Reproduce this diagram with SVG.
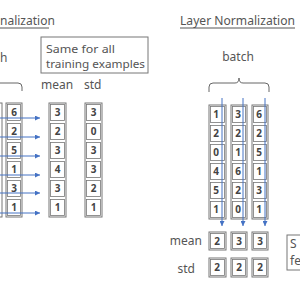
<svg xmlns="http://www.w3.org/2000/svg" width="300" height="300" viewBox="0 0 300 300">
<defs>
<style>
.t{font-family:"Noto Sans","Noto Sans CJK JP",sans-serif;fill:#555;font-size:12px}
.nt{font-family:"Noto Sans","Noto Sans CJK JP",sans-serif;fill:#555;font-size:11px}
.n{font-family:"Noto Sans","Noto Sans CJK JP",sans-serif;fill:#444;font-size:10px;font-weight:bold;text-anchor:middle}
.col{fill:#fff;stroke:#777;stroke-width:1}
.cell{fill:none;stroke:#777;stroke-width:0.8}
.bl{stroke:#4472C4;stroke-width:1;fill:none}
.br{stroke:#666;stroke-width:1;fill:none}
</style>
<marker id="ah" viewBox="0 0 6 6" refX="6" refY="3" markerWidth="5" markerHeight="5" orient="auto">
<path d="M0,0 L6,3 L0,6 z" fill="#4472C4"/>
</marker>
</defs>
<rect width="300" height="300" fill="#fff"/>

<g id="titles">
<text class="t" x="0" y="25">nalization</text>
<line x1="0" y1="28" x2="49" y2="28" stroke="#555" stroke-width="1"/>
<text class="t" x="180" y="25" textLength="115" lengthAdjust="spacingAndGlyphs">Layer Normalization</text>
<line x1="180" y1="28" x2="295" y2="28" stroke="#555" stroke-width="1"/>
<text class="t" x="0" y="62">h</text>
<text class="t" x="238" y="61" text-anchor="middle">batch</text>
</g>

<g id="note-left">
<rect x="41" y="37" width="107" height="36" fill="#fff" stroke="#777" stroke-width="1"/>
<text class="nt" x="46" y="53" textLength="69" lengthAdjust="spacingAndGlyphs">Same for all</text>
<text class="nt" x="46" y="68" textLength="99" lengthAdjust="spacingAndGlyphs">training examples</text>
</g>
<g id="labels-left">
<text class="t" x="41" y="89">mean</text>
<text class="t" x="84" y="89">std</text>
</g>

<g id="brace-left"><path class="br" d="M0,83 H18 Q22,83 22,87 V91"/></g>
<g id="brace-right"><path class="br" d="M209,92 V87 Q209,83 213,83 H235 Q239,83 239,78 Q239,83 243,83 H265 Q269,83 269,87 V92"/></g>

<g id="bn-prev"><rect class="col" x="-15" y="103" width="17" height="114"/></g>

<g id="bn-col">
<rect class="col" x="6" y="103" width="16" height="114"/>
<rect class="cell" x="7.5" y="104.5" width="13" height="16"/><text class="n" x="14" y="116">6</text>
<rect class="cell" x="7.5" y="123.5" width="13" height="16"/><text class="n" x="14" y="135">2</text>
<rect class="cell" x="7.5" y="142.5" width="13" height="16"/><text class="n" x="14" y="154">5</text>
<rect class="cell" x="7.5" y="161.5" width="13" height="16"/><text class="n" x="14" y="173">1</text>
<rect class="cell" x="7.5" y="180.5" width="13" height="16"/><text class="n" x="14" y="192">3</text>
<rect class="cell" x="7.5" y="199.5" width="13" height="16"/><text class="n" x="14" y="211">1</text>
</g>

<g id="bn-mean">
<rect class="col" x="49" y="103" width="17" height="114"/>
<rect class="cell" x="50.5" y="104.5" width="14" height="16"/><text class="n" x="57.5" y="116">3</text>
<rect class="cell" x="50.5" y="123.5" width="14" height="16"/><text class="n" x="57.5" y="135">2</text>
<rect class="cell" x="50.5" y="142.5" width="14" height="16"/><text class="n" x="57.5" y="154">3</text>
<rect class="cell" x="50.5" y="161.5" width="14" height="16"/><text class="n" x="57.5" y="173">4</text>
<rect class="cell" x="50.5" y="180.5" width="14" height="16"/><text class="n" x="57.5" y="192">3</text>
<rect class="cell" x="50.5" y="199.5" width="14" height="16"/><text class="n" x="57.5" y="211">1</text>
</g>

<g id="bn-std">
<rect class="col" x="85" y="103" width="17" height="114"/>
<rect class="cell" x="86.5" y="104.5" width="14" height="16"/><text class="n" x="93.5" y="116">3</text>
<rect class="cell" x="86.5" y="123.5" width="14" height="16"/><text class="n" x="93.5" y="135">0</text>
<rect class="cell" x="86.5" y="142.5" width="14" height="16"/><text class="n" x="93.5" y="154">3</text>
<rect class="cell" x="86.5" y="161.5" width="14" height="16"/><text class="n" x="93.5" y="173">3</text>
<rect class="cell" x="86.5" y="180.5" width="14" height="16"/><text class="n" x="93.5" y="192">2</text>
<rect class="cell" x="86.5" y="199.5" width="14" height="16"/><text class="n" x="93.5" y="211">1</text>
</g>

<g id="ln-col1">
<rect class="col" x="209" y="105" width="17" height="114"/>
<rect class="cell" x="210.5" y="106.5" width="14" height="16"/><text class="n" x="216" y="118">1</text>
<rect class="cell" x="210.5" y="125.5" width="14" height="16"/><text class="n" x="216" y="137">2</text>
<rect class="cell" x="210.5" y="144.5" width="14" height="16"/><text class="n" x="216" y="156">0</text>
<rect class="cell" x="210.5" y="163.5" width="14" height="16"/><text class="n" x="216" y="175">4</text>
<rect class="cell" x="210.5" y="182.5" width="14" height="16"/><text class="n" x="216" y="194">5</text>
<rect class="cell" x="210.5" y="201.5" width="14" height="16"/><text class="n" x="216" y="213">1</text>
</g>
<g id="ln-col2">
<rect class="col" x="231" y="105" width="16" height="114"/>
<rect class="cell" x="232.5" y="106.5" width="13" height="16"/><text class="n" x="238" y="118">3</text>
<rect class="cell" x="232.5" y="125.5" width="13" height="16"/><text class="n" x="238" y="137">2</text>
<rect class="cell" x="232.5" y="144.5" width="13" height="16"/><text class="n" x="238" y="156">1</text>
<rect class="cell" x="232.5" y="163.5" width="13" height="16"/><text class="n" x="238" y="175">6</text>
<rect class="cell" x="232.5" y="182.5" width="13" height="16"/><text class="n" x="238" y="194">2</text>
<rect class="cell" x="232.5" y="201.5" width="13" height="16"/><text class="n" x="238" y="213">0</text>
</g>
<g id="ln-col3">
<rect class="col" x="252" y="105" width="16" height="114"/>
<rect class="cell" x="253.5" y="106.5" width="13" height="16"/><text class="n" x="259" y="118">6</text>
<rect class="cell" x="253.5" y="125.5" width="13" height="16"/><text class="n" x="259" y="137">2</text>
<rect class="cell" x="253.5" y="144.5" width="13" height="16"/><text class="n" x="259" y="156">5</text>
<rect class="cell" x="253.5" y="163.5" width="13" height="16"/><text class="n" x="259" y="175">1</text>
<rect class="cell" x="253.5" y="182.5" width="13" height="16"/><text class="n" x="259" y="194">3</text>
<rect class="cell" x="253.5" y="201.5" width="13" height="16"/><text class="n" x="259" y="213">1</text>
</g>

<g id="ln-mean">
<text class="t" x="202" y="245" text-anchor="end">mean</text>
<rect class="col" x="209" y="232" width="17" height="18"/><rect class="cell" x="210.5" y="233.5" width="14" height="15"/><text class="n" x="217" y="245">2</text>
<rect class="col" x="231" y="232" width="16" height="18"/><rect class="cell" x="232.5" y="233.5" width="13" height="15"/><text class="n" x="239" y="245">3</text>
<rect class="col" x="252" y="232" width="16" height="18"/><rect class="cell" x="253.5" y="233.5" width="13" height="15"/><text class="n" x="260" y="245">3</text>
</g>
<g id="ln-std">
<text class="t" x="195" y="273" text-anchor="end">std</text>
<rect class="col" x="209" y="258" width="17" height="19"/><rect class="cell" x="210.5" y="259.5" width="14" height="16"/><text class="n" x="217" y="271">2</text>
<rect class="col" x="231" y="258" width="16" height="19"/><rect class="cell" x="232.5" y="259.5" width="13" height="16"/><text class="n" x="239" y="271">2</text>
<rect class="col" x="252" y="258" width="16" height="19"/><rect class="cell" x="253.5" y="259.5" width="13" height="16"/><text class="n" x="260" y="271">2</text>
</g>

<g id="note-right">
<rect x="287" y="235" width="20" height="35" fill="#fff" stroke="#777" stroke-width="1"/>
<text class="t" x="290" y="248" font-size="11">S</text>
<text class="t" x="290" y="265" font-size="11">fe</text>
</g>

<g id="connectors">
<line class="bl" x1="0" y1="118" x2="40" y2="118" marker-end="url(#ah)"/>
<line class="bl" x1="0" y1="137" x2="40" y2="137" marker-end="url(#ah)"/>
<line class="bl" x1="0" y1="156" x2="40" y2="156" marker-end="url(#ah)"/>
<line class="bl" x1="0" y1="175" x2="40" y2="175" marker-end="url(#ah)"/>
<line class="bl" x1="0" y1="193" x2="40" y2="193" marker-end="url(#ah)"/>
<line class="bl" x1="0" y1="213" x2="40" y2="213" marker-end="url(#ah)"/>
<line class="bl" x1="222" y1="98" x2="222" y2="226" marker-end="url(#ah)"/>
<line class="bl" x1="243" y1="98" x2="243" y2="226" marker-end="url(#ah)"/>
<line class="bl" x1="265" y1="98" x2="265" y2="226" marker-end="url(#ah)"/>
</g>
</svg>
